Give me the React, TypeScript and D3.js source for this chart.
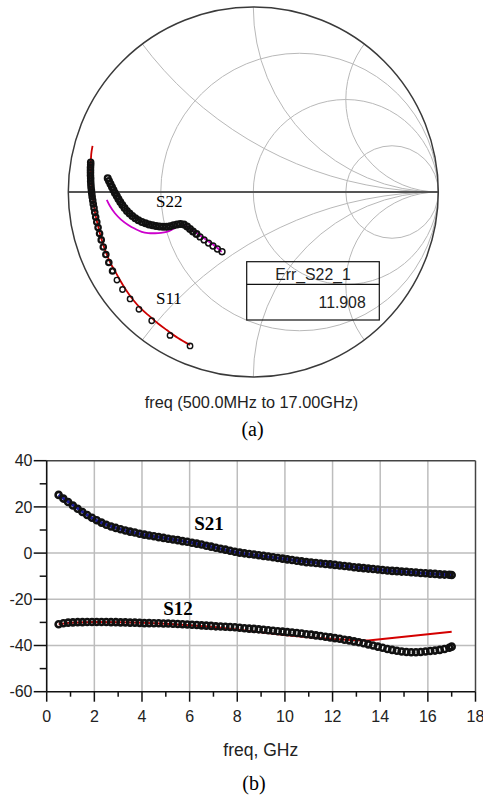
import React from 'react';
import * as d3 from 'd3';

// ---------- Smith chart (a): reflection coefficients [re, im] ----------
const smithR = [1 / 3, 1, 3];
const smithX = [0.5, 1, 2];

const s11Measured: [number, number][] = [
  [-0.879, 0.161], [-0.879, 0.147], [-0.88, 0.133], [-0.88, 0.118], [-0.88, 0.104],
  [-0.88, 0.089], [-0.879, 0.074], [-0.879, 0.058], [-0.878, 0.042], [-0.877, 0.026],
  [-0.875, 0.009], [-0.873, -0.008], [-0.871, -0.026], [-0.868, -0.045], [-0.865, -0.065],
  [-0.861, -0.086], [-0.857, -0.11], [-0.852, -0.135], [-0.846, -0.162], [-0.839, -0.192],
  [-0.831, -0.224], [-0.822, -0.259], [-0.811, -0.297], [-0.797, -0.338], [-0.781, -0.381],
  [-0.761, -0.427], [-0.737, -0.476], [-0.707, -0.527], [-0.666, -0.578], [-0.618, -0.634],
  [-0.549, -0.696], [-0.45, -0.775], [-0.342, -0.832],
];
const s11Model: [number, number][] = [
  [-0.869, 0.249], [-0.876, 0.205], [-0.878, 0.157], [-0.877, 0.092], [-0.873, 0.022],
  [-0.865, -0.043], [-0.855, -0.114], [-0.839, -0.184], [-0.821, -0.254], [-0.798, -0.322],
  [-0.772, -0.384], [-0.745, -0.432], [-0.721, -0.476], [-0.688, -0.53], [-0.649, -0.584],
  [-0.607, -0.631], [-0.558, -0.674], [-0.515, -0.711], [-0.468, -0.746], [-0.407, -0.789],
  [-0.342, -0.827],
];
const s22Measured: [number, number][] = [
  [-0.787, 0.074], [-0.78, 0.059], [-0.772, 0.043], [-0.764, 0.027], [-0.756, 0.011],
  [-0.748, -0.005], [-0.738, -0.022], [-0.729, -0.038], [-0.719, -0.054], [-0.708, -0.07],
  [-0.696, -0.086], [-0.683, -0.103], [-0.669, -0.116], [-0.654, -0.13], [-0.638, -0.142],
  [-0.621, -0.153], [-0.602, -0.162], [-0.583, -0.169], [-0.564, -0.176], [-0.545, -0.18],
  [-0.526, -0.184], [-0.507, -0.186], [-0.488, -0.188], [-0.469, -0.188], [-0.45, -0.185],
  [-0.431, -0.18], [-0.412, -0.175], [-0.394, -0.173], [-0.375, -0.176], [-0.358, -0.186],
  [-0.342, -0.2], [-0.326, -0.214], [-0.307, -0.227], [-0.288, -0.243], [-0.266, -0.259],
  [-0.242, -0.276], [-0.218, -0.292], [-0.194, -0.308], [-0.169, -0.323],
];
const s22Model: [number, number][] = [
  [-0.792, -0.043], [-0.775, -0.076], [-0.748, -0.115], [-0.715, -0.149], [-0.676, -0.178],
  [-0.639, -0.199], [-0.603, -0.215], [-0.568, -0.222], [-0.531, -0.223], [-0.499, -0.221],
  [-0.468, -0.215], [-0.439, -0.203], [-0.407, -0.186], [-0.375, -0.181], [-0.351, -0.189],
  [-0.326, -0.208], [-0.299, -0.227], [-0.272, -0.246], [-0.245, -0.265], [-0.218, -0.284],
  [-0.194, -0.303], [-0.171, -0.324],
];
const errLabel = 'Err_S22_1';
const errValue = '11.908';

// ---------- Chart (b): dB vs frequency ----------
const freqGHz = [
  0.5, 0.7, 0.9, 1.1, 1.3, 1.5, 1.7, 1.9, 2.1, 2.3, 2.5, 2.7, 2.9, 3.1, 3.3, 3.5, 3.7, 3.9,
  4.1, 4.3, 4.5, 4.7, 4.9, 5.1, 5.3, 5.5, 5.7, 5.9, 6.1, 6.3, 6.5, 6.7, 6.9, 7.1, 7.3, 7.5,
  7.7, 7.9, 8.1, 8.3, 8.5, 8.7, 8.9, 9.1, 9.3, 9.5, 9.7, 9.9, 10.1, 10.3, 10.5, 10.7, 10.9,
  11.1, 11.3, 11.5, 11.7, 11.9, 12.1, 12.3, 12.5, 12.7, 12.9, 13.1, 13.3, 13.5, 13.7, 13.9,
  14.1, 14.3, 14.5, 14.7, 14.9, 15.1, 15.3, 15.5, 15.7, 15.9, 16.1, 16.3, 16.5, 16.7, 16.9, 17.0,
];
const s21Measured = [
  25.2, 23.6, 22.1, 20.6, 19.2, 17.8, 16.5, 15.3, 14.2, 13.2, 12.3, 11.5, 10.9, 10.3, 9.8, 9.3,
  8.9, 8.4, 8.0, 7.6, 7.3, 6.9, 6.6, 6.2, 5.9, 5.6, 5.2, 4.9, 4.5, 4.1, 3.7, 3.2, 2.8, 2.3,
  1.9, 1.5, 1.0, 0.6, 0.2, -0.1, -0.4, -0.6, -0.9, -1.2, -1.5, -1.8, -2.1, -2.4, -2.7, -3.0,
  -3.3, -3.6, -3.9, -4.1, -4.3, -4.5, -4.7, -4.9, -5.1, -5.4, -5.6, -5.8, -6.1, -6.3, -6.5,
  -6.7, -6.9, -7.1, -7.3, -7.5, -7.7, -7.8, -8.0, -8.1, -8.3, -8.4, -8.6, -8.7, -8.9, -9.0,
  -9.2, -9.3, -9.4, -9.5,
];
const s12Measured = [
  -30.8, -30.4, -30.1, -30.0, -29.9, -29.9, -29.8, -29.8, -29.8, -29.8, -29.8, -29.9, -29.9,
  -30.0, -30.0, -30.1, -30.1, -30.2, -30.3, -30.3, -30.4, -30.4, -30.5, -30.5, -30.6, -30.7,
  -30.8, -30.9, -31.0, -31.1, -31.3, -31.4, -31.5, -31.7, -31.8, -31.9, -32.0, -32.1, -32.3,
  -32.5, -32.7, -32.8, -33.0, -33.2, -33.4, -33.6, -33.8, -34.0, -34.2, -34.4, -34.6, -34.8,
  -35.1, -35.3, -35.6, -35.9, -36.2, -36.5, -36.8, -37.1, -37.5, -37.8, -38.2, -38.6, -39.0,
  -39.5, -40.0, -40.5, -41.0, -41.5, -41.9, -42.3, -42.6, -42.8, -42.9, -42.9, -42.8, -42.6,
  -42.4, -42.2, -41.9, -41.5, -41.0, -40.5,
];
const modelFreqGHz = [0.5, 1, 2, 3, 4, 5, 6, 7, 8, 9, 10, 11, 12, 13, 13.5, 14, 15, 16, 17];
const s21Model = [25.2, 21.6, 14.6, 10.6, 8.2, 6.4, 4.7, 2.6, 0.3, -1.2, -2.6, -3.9, -5.0, -6.2, -6.7, -7.2, -8.1, -8.8, -9.5];
const s12Model = [-30.8, -30.1, -29.8, -29.9, -30.2, -30.6, -31.2, -32.0, -33.1, -34.3, -35.5, -36.4, -37.2, -37.7, -37.8, -37.3, -36.2, -35.1, -34.0];

const xMajorTicks = [0, 2, 4, 6, 8, 10, 12, 14, 16, 18];
const xMinorTicks = [1, 3, 5, 7, 9, 11, 13, 15, 17];
const yMajorTicks = [40, 20, 0, -20, -40, -60];
const yMinorTicks = [30, 10, -10, -30, -50];

const sans = "'Liberation Sans', Arial, Helvetica, sans-serif";
const serif = "'Liberation Serif', 'Times New Roman', Times, serif";

export default function App() {
  // Smith chart scales
  const sx = d3.scaleLinear().domain([-1, 1]).range([68.3, 438.3]);
  const sy = d3.scaleLinear().domain([-1, 1]).range([377, 7]);
  const k = sx(1) - sx(0);
  const gLine = d3.line<[number, number]>().x((d) => sx(d[0])).y((d) => sy(d[1])).curve(d3.curveCatmullRom);

  // Rectangular chart scales
  const fx = d3.scaleLinear().domain([0, 18]).range([46.7, 475.5]);
  const fy = d3.scaleLinear().domain([-60, 40]).range([691.7, 460.7]);
  const modelLine = (vals: number[]) =>
    d3.line<number>().x((_, i) => fx(modelFreqGHz[i])).y((d) => fy(d)).curve(d3.curveMonotoneX)(vals) || '';
  const s12ModelPath =
    d3.line<number>().x((_, i) => fx(modelFreqGHz[i])).y((d) => fy(d)).curve(d3.curveLinear)(s12Model) || '';

  const gridColor = '#bdbdbd';

  return (
    <svg width={483} height={800} style={{ position: 'absolute', left: 0, top: 0, background: '#fff' }}>
      <rect x={0} y={0} width={483} height={800} fill="#fff" />
      <defs>
        <clipPath id="unitCircle">
          <circle cx={sx(0)} cy={sy(0)} r={k} />
        </clipPath>
      </defs>

      {/* Smith chart grid */}
      <g clipPath="url(#unitCircle)" fill="none" stroke="#b8b8b8" strokeWidth={1}>
        {smithR.map((r) => (
          <circle key={'r' + r} cx={sx(r / (1 + r))} cy={sy(0)} r={k / (1 + r)} />
        ))}
        {smithX.map((x) => (
          <g key={'x' + x}>
            <circle cx={sx(1)} cy={sy(1 / x)} r={k / x} />
            <circle cx={sx(1)} cy={sy(-1 / x)} r={k / x} />
          </g>
        ))}
      </g>
      <line x1={sx(-1)} x2={sx(1)} y1={sy(0)} y2={sy(0)} stroke="#555" strokeWidth={1.8} />
      <circle cx={sx(0)} cy={sy(0)} r={k} fill="none" stroke="#3a3a3a" strokeWidth={1.5} />

      {/* Smith model traces */}
      <path d={gLine(s11Model) || ''} fill="none" stroke="#cc0000" strokeWidth={1.8} />
      <path d={gLine(s22Model) || ''} fill="none" stroke="#cc00cc" strokeWidth={1.8} />
      {/* Smith measured markers */}
      <g fill="none" stroke="#111" strokeWidth={1.8}>
        {s11Measured.map((d, i) => (
          <circle key={'a' + i} cx={sx(d[0])} cy={sy(d[1])} r={2.7} strokeWidth={i < 26 ? 2.2 : 1.4} />
        ))}
        {s22Measured.map((d, i) => (
          <circle key={'b' + i} cx={sx(d[0])} cy={sy(d[1])} r={2.9} strokeWidth={i < 33 ? 2.2 : 1.5} />
        ))}
      </g>
      <text x={156} y={207.3} fontFamily={serif} fontSize={17}>S22</text>
      <text x={156} y={304} fontFamily={serif} fontSize={17}>S11</text>

      {/* Err box */}
      <rect x={246.7} y={261.7} width={132.6} height={58.3} fill="none" stroke="#111" strokeWidth={1.2} />
      <line x1={246.7} x2={379.3} y1={284.3} y2={284.3} stroke="#111" strokeWidth={1.2} />
      <text x={313} y={280} textAnchor="middle" fontFamily={sans} fontSize={15.8} fill="#222">{errLabel}</text>
      <text x={365.7} y={307.7} textAnchor="end" fontFamily={sans} fontSize={15.8} fill="#222">{errValue}</text>

      <text x={251.5} y={408} textAnchor="middle" fontFamily={sans} fontSize={16.3} fill="#222">
        freq (500.0MHz to 17.00GHz)
      </text>
      <text x={252.5} y={436} textAnchor="middle" fontFamily={serif} fontSize={20}>(a)</text>

      {/* Chart (b) grid */}
      <g stroke={gridColor} strokeWidth={1.5}>
        {xMajorTicks.slice(1, -1).map((t) => (
          <line key={'gx' + t} x1={fx(t)} x2={fx(t)} y1={fy(40)} y2={fy(-60)} />
        ))}
        {yMajorTicks.slice(1, -1).map((t) => (
          <line key={'gy' + t} x1={fx(0)} x2={fx(18)} y1={fy(t)} y2={fy(t)} />
        ))}
      </g>
      {/* frame */}
      <line x1={fx(0)} x2={fx(18)} y1={fy(40)} y2={fy(40)} stroke="#444" strokeWidth={1.5} />
      <line x1={fx(18)} x2={fx(18)} y1={fy(40)} y2={fy(-60)} stroke="#444" strokeWidth={1.5} />
      <line x1={fx(0)} x2={fx(0)} y1={fy(40)} y2={fy(-60)} stroke="#111" strokeWidth={1.6} />
      <line x1={fx(0)} x2={fx(18)} y1={fy(-60)} y2={fy(-60)} stroke="#111" strokeWidth={1.6} />

      {/* ticks */}
      <g stroke="#111" strokeWidth={1.5}>
        {yMajorTicks.map((t) => (
          <line key={'ty' + t} x1={fx(0) - 13} x2={fx(0)} y1={fy(t)} y2={fy(t)} />
        ))}
        {yMinorTicks.map((t) => (
          <line key={'tym' + t} x1={fx(0) - 7} x2={fx(0)} y1={fy(t)} y2={fy(t)} />
        ))}
        {xMajorTicks.map((t) => (
          <line key={'tx' + t} x1={fx(t)} x2={fx(t)} y1={fy(-60)} y2={fy(-60) + 10} />
        ))}
        {xMinorTicks.map((t) => (
          <line key={'txm' + t} x1={fx(t)} x2={fx(t)} y1={fy(-60)} y2={fy(-60) + 5} />
        ))}
      </g>
      <g fontFamily={sans} fontSize={16} fill="#222">
        {yMajorTicks.map((t) => (
          <text key={'ly' + t} x={32.5} y={fy(t)} dy="0.36em" textAnchor="end">{String(t)}</text>
        ))}
        {xMajorTicks.map((t) => (
          <text key={'lx' + t} x={fx(t)} y={721.7} textAnchor="middle">{String(t)}</text>
        ))}
      </g>
      <text x={260.8} y={755.5} textAnchor="middle" fontFamily={sans} fontSize={17.5} fill="#222">freq, GHz</text>
      <text x={254} y={790} textAnchor="middle" fontFamily={serif} fontSize={20}>(b)</text>

      {/* model lines */}
      <path d={modelLine(s21Model)} fill="none" stroke="#1c1c9a" strokeWidth={3} />
      <path d={s12ModelPath} fill="none" stroke="#d40000" strokeWidth={2} />
      {/* measured markers */}
      <g fill="none" stroke="#111" strokeWidth={2.6}>
        {s21Measured.map((v, i) => (
          <circle key={'m21' + i} cx={fx(freqGHz[i])} cy={fy(v)} r={3.0} />
        ))}
        {s12Measured.map((v, i) => (
          <circle key={'m12' + i} cx={fx(freqGHz[i])} cy={fy(v)} r={3.0} />
        ))}
      </g>
      <text x={194.3} y={530} fontFamily={serif} fontWeight="bold" fontSize={19}>S21</text>
      <text x={163.3} y={615} fontFamily={serif} fontWeight="bold" fontSize={19}>S12</text>
    </svg>
  );
}
